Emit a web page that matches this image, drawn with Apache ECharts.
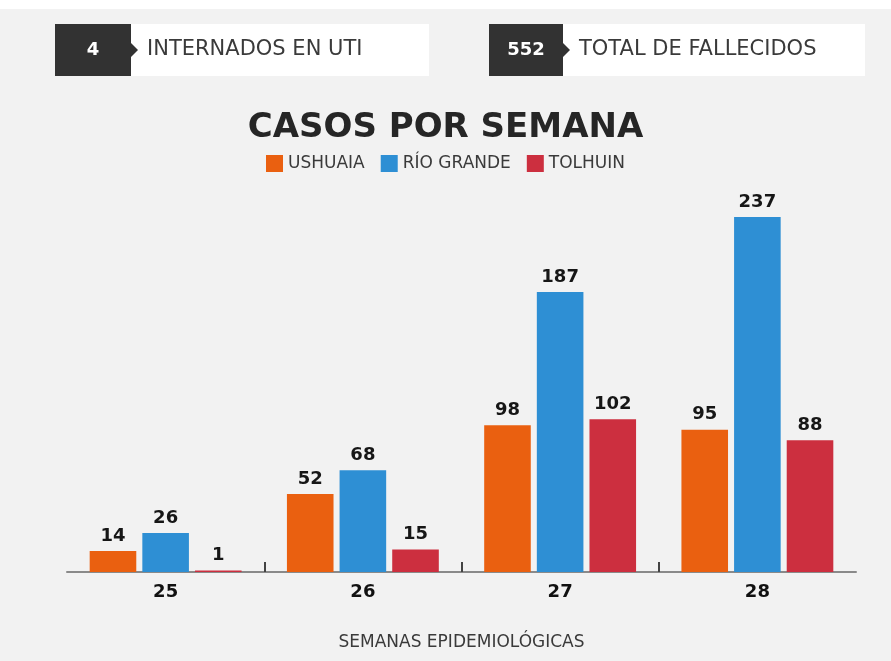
<!DOCTYPE html>
<html>
<head>
<meta charset="utf-8">
<script src="https://cdn.jsdelivr.net/npm/echarts@6/dist/echarts.min.js"></script>
<style>
  html, body { margin: 0; padding: 0; background: #fff; }
  #chart { width: 891px; height: 661px; }
</style>
</head>
<body>
<div id="chart"></div>
<script>
var weeks = ['25', '26', '27', '28'];
var ushuaia = [14, 52, 98, 95];
var rioGrande = [26, 68, 187, 237];
var tolhuin = [1, 15, 102, 88];
var seriesNames = ['USHUAIA', 'RÍO GRANDE', 'TOLHUIN'];
var colors = ['#ea6010', '#2e8fd4', '#cc2f3f'];
var stats = [
    { value: '4', label: 'INTERNADOS EN UTI' },
    { value: '552', label: 'TOTAL DE FALLECIDOS' }
];

var chart = echarts.init(document.getElementById('chart'));

function statBox(stat, x, darkW, whiteW) {
    var y = 24, h = 52;
    return {
        type: 'group',
        children: [
            { type: 'rect', shape: { x: x, y: y, width: darkW + whiteW, height: h }, style: { fill: '#ffffff' } },
            { type: 'rect', shape: { x: x, y: y, width: darkW, height: h }, style: { fill: '#323232' } },
            { type: 'polygon', shape: { points: [[x + darkW, y + h / 2 - 7], [x + darkW + 7, y + h / 2], [x + darkW, y + h / 2 + 7]] }, style: { fill: '#323232' } },
            { type: 'text', x: x + darkW / 2, y: y + h / 2, style: { text: stat.value, fill: '#ffffff', font: 'bold 18px "DejaVu Sans", sans-serif', align: 'center', verticalAlign: 'middle' } },
            { type: 'text', x: x + darkW + 16, y: y + h / 2, style: { text: stat.label, fill: '#3a3a3a', font: '21px "DejaVu Sans", sans-serif', align: 'left', verticalAlign: 'middle' } }
        ]
    };
}

function barSeries(name, data, color) {
    return {
        name: name,
        type: 'bar',
        data: data,
        barGap: '13%',
        barCategoryGap: '23%',
        itemStyle: { color: color },
        label: {
            show: true,
            position: 'top',
            distance: 6,
            color: '#161616',
            fontSize: 18,
            fontWeight: 'bold',
            fontFamily: '"DejaVu Sans", sans-serif'
        }
    };
}

var option = {
    backgroundColor: '#f2f2f2',
    animation: false,
    color: colors,
    title: {
        text: 'CASOS POR SEMANA',
        left: 'center',
        top: 106,
        textStyle: {
            fontSize: 34,
            fontWeight: 'bold',
            fontFamily: '"DejaVu Sans", sans-serif',
            color: '#262626'
        }
    },
    legend: {
        top: 150,
        left: 'center',
        itemWidth: 17,
        itemHeight: 17,
        itemGap: 16,
        icon: 'rect',
        data: seriesNames,
        textStyle: {
            fontSize: 17,
            color: '#3a3a3a',
            fontFamily: '"DejaVu Sans", sans-serif'
        }
    },
    grid: { left: 67, right: 35, top: 217, bottom: 89, containLabel: false },
    xAxis: [{
        type: 'category',
        data: weeks,
        name: 'SEMANAS EPIDEMIOLÓGICAS',
        nameLocation: 'middle',
        nameGap: 62,
        nameTextStyle: {
            fontSize: 17,
            color: '#3a3a3a',
            fontFamily: '"DejaVu Sans", sans-serif'
        },
        axisLine: { lineStyle: { color: '#8a8a8a', width: 2 } },
        axisTick: { show: false },
        axisLabel: {
            margin: 11,
            fontSize: 18,
            fontWeight: 'bold',
            color: '#111',
            fontFamily: '"DejaVu Sans", sans-serif'
        }
    }, {
        // category boundaries between weeks, ticks only
        type: 'value',
        position: 'bottom',
        min: 0,
        max: weeks.length,
        axisLine: { show: false },
        axisLabel: { show: false },
        splitLine: { show: false },
        axisTick: {
            show: true,
            inside: true,
            length: 10,
            customValues: [1, 2, 3],
            lineStyle: { color: '#444', width: 2 }
        }
    }],
    yAxis: {
        type: 'value',
        min: 0,
        max: 237,
        show: false,
        splitLine: { show: false }
    },
    series: [
        barSeries(seriesNames[0], ushuaia, colors[0]),
        barSeries(seriesNames[1], rioGrande, colors[1]),
        barSeries(seriesNames[2], tolhuin, colors[2])
    ],
    graphic: [
        { type: 'rect', left: 0, top: 0, shape: { width: 891, height: 9 }, style: { fill: '#ffffff' }, z: -1 },
        statBox(stats[0], 55, 76, 298),
        statBox(stats[1], 489, 74, 302)
    ]
};

chart.setOption(option);
</script>
</body>
</html>
